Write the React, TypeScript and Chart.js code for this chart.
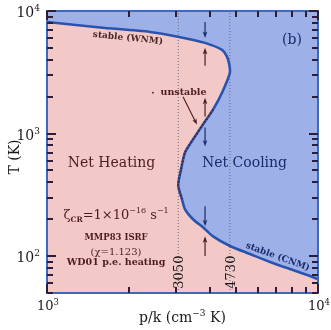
import React, { useEffect, useRef } from 'react';
import { Chart, registerables } from 'chart.js';

Chart.register(...registerables);

// Thermal equilibrium curve, ordered from the WNM branch (top) to the CNM branch (bottom)
const curvePressure = [800, 1000, 1569, 2399, 3070, 3828, 4424, 4600, 4700, 4730, 4424, 4099, 3763, 3457, 3231, 3123, 3050, 3149, 3231, 3457, 3763, 4099, 4734, 5613, 6650, 7882, 9344, 10000, 12500];
const curveTemperature = [8600, 8140, 7340, 6750, 6145, 5494, 4818, 4306, 3708, 3132, 2154, 1567, 1184, 894, 701, 510, 378, 291, 241, 200, 172, 145, 121, 104, 89.4, 78.4, 68.8, 65.0, 56];
// corners closing the net-heating region (outside the plot window)
const heatingCornerPressure = [15000, 500, 500, 800];
const heatingCornerTemperature = [30, 30, 20000, 20000];
// index range of the unstable (dotted) part of the curve
const unstableRange = [11, 18];

const markedPressures = [3050, 4730];
const markedLabels = ['3050', '4730'];

const arrowPressure = 3830;
const arrowFrom = [8140, 3571, 1375, 1119, 255, 100];
const arrowTo = [6033, 5003, 1962, 784, 175, 145];
const arrowSide = ['cool', 'heat', 'heat', 'cool', 'cool', 'heat'];

const xTickValues = [1000, 10000];
const xTickExponents = ['3', '4'];
const yTickValues = [100, 1000, 10000];
const yTickExponents = ['2', '3', '4'];
const xTickMarks = [1000, 2000, 3000, 4000, 5000, 6000, 7000, 8000, 9000, 10000];
const yTickMarks = [50, 60, 70, 80, 90, 100, 200, 300, 400, 500, 600, 700, 800, 900, 1000, 2000, 3000, 4000, 5000, 6000, 7000, 8000, 9000, 10000];
const majorMarks = [100, 1000, 10000];

const X_MIN = 1000, X_MAX = 10000, Y_MIN = 50, Y_MAX = 10000;

const HEAT_BG = 'rgb(243,201,199)';
const COOL_BG = 'rgb(158,176,232)';
const CURVE = 'rgb(40,84,176)';
const FRAME = 'rgb(62,104,190)';
const HEAT_TEXT = 'rgb(78,28,30)';
const COOL_TEXT = 'rgb(28,42,108)';
const INK = 'rgb(25,25,30)';
const TICK = 'rgb(45,30,55)';
const DOT_INK = 'rgb(85,30,30)';
const TENSION = 0.25;

const SERIF = '"DejaVu Serif", "Liberation Serif", serif';

type Part = { t: string; s: number; dy?: number; b?: boolean };
function fontOf(p: Part) {
  return `${p.b ? 'bold ' : ''}${p.s}px ${SERIF}`;
}
function drawRich(ctx: CanvasRenderingContext2D, parts: Part[], x: number, y: number, align: 'left' | 'center' | 'right', color: string) {
  let total = 0;
  for (const p of parts) {
    ctx.font = fontOf(p);
    total += ctx.measureText(p.t).width;
  }
  let cx = align === 'left' ? x : align === 'center' ? x - total / 2 : x - total;
  ctx.fillStyle = color;
  ctx.textAlign = 'left';
  ctx.textBaseline = 'alphabetic';
  for (const p of parts) {
    ctx.font = fontOf(p);
    ctx.fillText(p.t, cx, y + (p.dy || 0));
    cx += ctx.measureText(p.t).width;
  }
}
function drawRotated(ctx: CanvasRenderingContext2D, parts: Part[], cx: number, cy: number, angle: number, color: string) {
  const size = Math.max(...parts.map((p) => p.s));
  ctx.save();
  ctx.translate(cx, cy);
  ctx.rotate(angle);
  drawRich(ctx, parts, 0, size * 0.36, 'center', color);
  ctx.restore();
}
function vArrow(ctx: CanvasRenderingContext2D, x: number, y0: number, y1: number, color: string) {
  const d = Math.sign(y1 - y0);
  ctx.strokeStyle = color;
  ctx.fillStyle = color;
  ctx.lineWidth = 1.2;
  ctx.beginPath();
  ctx.moveTo(x, y0);
  ctx.lineTo(x, y1 - d * 3);
  ctx.stroke();
  ctx.beginPath();
  ctx.moveTo(x, y1);
  ctx.lineTo(x - 2.3, y1 - d * 6.5);
  ctx.lineTo(x, y1 - d * 4.8);
  ctx.lineTo(x + 2.3, y1 - d * 6.5);
  ctx.closePath();
  ctx.fill();
}

const decor = {
  id: 'decor',
  beforeDatasetsDraw(chart: any) {
    const { ctx, chartArea: a } = chart;
    ctx.save();
    ctx.fillStyle = COOL_BG;
    ctx.fillRect(a.left, a.top, a.right - a.left, a.bottom - a.top);
    ctx.restore();
  },
  afterDraw(chart: any) {
    const { ctx, chartArea: a } = chart;
    const xs = chart.scales.x;
    const ys = chart.scales.y;
    const P = (p: number) => xs.getPixelForValue(p);
    const T = (t: number) => ys.getPixelForValue(t);
    ctx.save();
    ctx.setLineDash([]);

    // frame
    ctx.strokeStyle = FRAME;
    ctx.lineWidth = 2;
    ctx.strokeRect(a.left, a.top, a.right - a.left, a.bottom - a.top);

    // inward tick marks on all four sides
    ctx.fillStyle = TICK;
    const L = Math.round(a.left), R = Math.round(a.right), Tp = Math.round(a.top), B = Math.round(a.bottom);
    for (const v of xTickMarks) {
      const X = Math.round(xs.getPixelForValue(v));
      const len = majorMarks.includes(v) ? 9 : 6;
      ctx.fillRect(X - 1, B - len, 2, len);
      ctx.fillRect(X - 1, Tp, 2, len);
    }
    for (const v of yTickMarks) {
      const Y = Math.round(ys.getPixelForValue(v));
      const len = majorMarks.includes(v) ? 9 : 6;
      ctx.fillRect(L, Y - 1, len, 2);
      ctx.fillRect(R - len, Y - 1, len, 2);
    }

    // marked pressure labels
    markedPressures.forEach((p, i) => {
      drawRotated(ctx, [{ t: markedLabels[i], s: 13 }], P(p), T(74), -Math.PI / 2, INK);
    });

    // heating / cooling arrows
    arrowFrom.forEach((f, i) => {
      vArrow(ctx, P(arrowPressure), T(f), T(arrowTo[i]), arrowSide[i] === 'cool' ? COOL_TEXT : HEAT_TEXT);
    });

    // "unstable" label with leader arrow
    drawRotated(ctx, [{ t: 'unstable', s: 9.5, b: true }], P(3189), T(2195), 0, HEAT_TEXT);
    ctx.fillStyle = HEAT_TEXT;
    ctx.beginPath();
    ctx.arc(P(2460), T(2154), 0.9, 0, Math.PI * 2);
    ctx.fill();
    {
      const x0 = P(3176), y0 = T(2000), x1 = P(3577), y1 = T(1184);
      const ang = Math.atan2(y1 - y0, x1 - x0);
      ctx.strokeStyle = HEAT_TEXT;
      ctx.lineWidth = 1.1;
      ctx.beginPath();
      ctx.moveTo(x0, y0);
      ctx.lineTo(x1 - Math.cos(ang) * 3, y1 - Math.sin(ang) * 3);
      ctx.stroke();
      ctx.save();
      ctx.translate(x1, y1);
      ctx.rotate(ang);
      ctx.beginPath();
      ctx.moveTo(0, 0);
      ctx.lineTo(-6, -2.3);
      ctx.lineTo(-4.5, 0);
      ctx.lineTo(-6, 2.3);
      ctx.closePath();
      ctx.fill();
      ctx.restore();
    }

    // region labels
    drawRotated(ctx, [{ t: 'stable (WNM)', s: 9, b: true }], P(1990), T(6100), (6 * Math.PI) / 180, 'rgb(70,40,42)');
    drawRotated(ctx, [{ t: 'stable (CNM)', s: 9, b: true }], P(7119), T(100), (20 * Math.PI) / 180, COOL_TEXT);
    drawRotated(ctx, [{ t: '(b)', s: 14 }], P(8017), T(5921), 0, COOL_TEXT);
    drawRotated(ctx, [{ t: 'Net Heating', s: 14 }], P(1730), T(581), 0, HEAT_TEXT);
    drawRotated(ctx, [{ t: 'Net Cooling', s: 14 }], P(5356), T(581), 0, COOL_TEXT);

    // parameter block
    const bx = P(1798);
    drawRich(ctx, [
      { t: 'ζ', s: 13 }, { t: 'CR', s: 7.5, dy: 3, b: true }, { t: '=1×10', s: 13 },
      { t: '−16', s: 8, dy: -6 }, { t: ' s', s: 13 }, { t: '−1', s: 8, dy: -6 },
    ], bx, T(219.5) + 4.7, 'center', HEAT_TEXT);
    drawRich(ctx, [{ t: 'MMP83 ISRF', s: 8.5, b: true }], bx, T(142.7) + 3.1, 'center', HEAT_TEXT);
    drawRich(ctx, [{ t: '(χ=1.123)', s: 10 }], bx, T(109.8) + 3.6, 'center', HEAT_TEXT);
    drawRich(ctx, [{ t: 'WD01 p.e. heating', s: 9.5, b: true }], bx, T(89.4) + 3.4, 'center', HEAT_TEXT);

    // tick labels
    yTickValues.forEach((v, i) => {
      drawRich(ctx, [{ t: '10', s: 14 }, { t: yTickExponents[i], s: 9, dy: -6 }], a.left - 7, T(v) + 6, 'right', INK);
    });
    xTickValues.forEach((v, i) => {
      drawRich(ctx, [{ t: '10', s: 13 }, { t: xTickExponents[i], s: 8.5, dy: -5.5 }], P(v) + 1, a.bottom + 17, 'center', INK);
    });

    // axis titles
    ctx.save();
    ctx.translate(19, (a.top + a.bottom) / 2 + 5);
    ctx.rotate(-Math.PI / 2);
    drawRich(ctx, [{ t: 'T (K)', s: 14 }], 0, 0, 'center', INK);
    ctx.restore();
    drawRich(ctx, [
      { t: 'p/k (cm', s: 14 }, { t: '−3', s: 9, dy: -6 }, { t: ' K)', s: 14 },
    ], (a.left + a.right) / 2, a.bottom + 29, 'center', INK);

    ctx.restore();
  },
};

export default function App() {
  const ref = useRef<HTMLCanvasElement>(null);
  useEffect(() => {
    const canvas = ref.current;
    if (!canvas) return;
    const curve = curvePressure.map((p, i) => ({ x: p, y: curveTemperature[i] }));
    const heating = curve.concat(heatingCornerPressure.map((p, i) => ({ x: p, y: heatingCornerTemperature[i] })));
    const unstable = curve.slice(unstableRange[0], unstableRange[1]);
    const chart = new Chart(canvas, {
      type: 'line',
      data: {
        datasets: [
          { data: unstable, borderColor: DOT_INK, borderWidth: 1.8, borderDash: [1.5, 2], tension: TENSION, pointRadius: 0, fill: false },
          { data: curve, borderColor: CURVE, borderWidth: 2.6, tension: TENSION, pointRadius: 0, fill: false },
          ...markedPressures.map((p) => ({
            data: [{ x: p, y: Y_MIN }, { x: p, y: Y_MAX }],
            borderColor: 'rgb(105,105,125)', borderWidth: 1, borderDash: [1, 2], pointRadius: 0, fill: false,
          })),
          { data: heating, borderColor: 'transparent', borderWidth: 0, backgroundColor: HEAT_BG, fill: 'shape', tension: TENSION, pointRadius: 0 },
        ],
      } as any,
      options: {
        animation: false,
        responsive: false,
        devicePixelRatio: 1,
        events: [],
        layout: { padding: { left: 47, top: 11, right: 13, bottom: 37 } },
        scales: {
          x: { type: 'logarithmic', min: X_MIN, max: X_MAX, display: false },
          y: { type: 'logarithmic', min: Y_MIN, max: Y_MAX, display: false },
        },
        plugins: { legend: { display: false }, tooltip: { enabled: false }, title: { display: false } },
      } as any,
      plugins: [decor as any],
    });
    return () => chart.destroy();
  }, []);
  return (
    <div style={{ position: 'absolute', left: 0, top: 0, width: 331, height: 330, background: '#fff' }}>
      <canvas ref={ref} width={331} height={330} style={{ display: 'block' }} />
    </div>
  );
}
